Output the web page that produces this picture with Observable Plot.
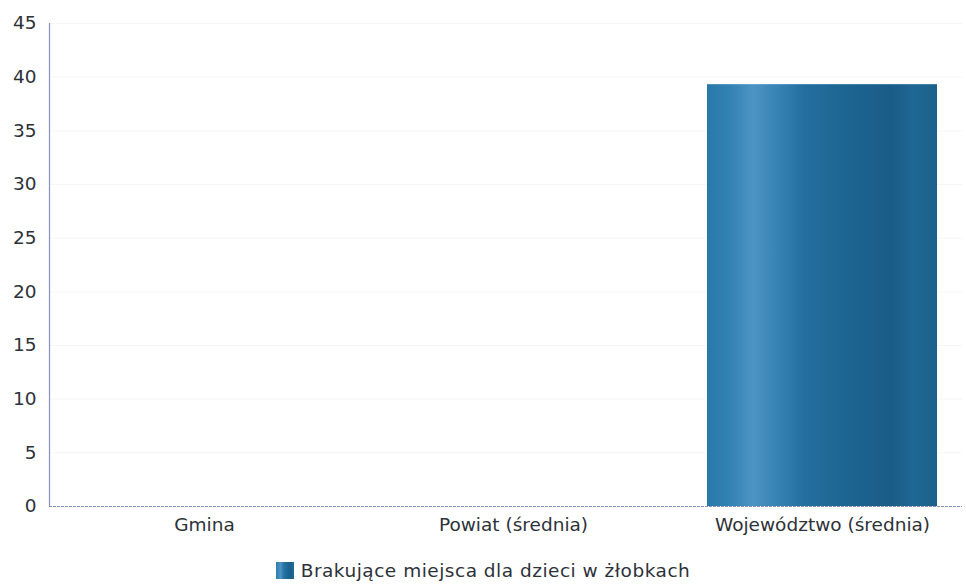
<!DOCTYPE html>
<html>
<head>
<meta charset="utf-8">
<script src="https://cdn.jsdelivr.net/npm/d3@7"></script>
<script src="https://cdn.jsdelivr.net/npm/@observablehq/plot@0.6"></script>
<style>
  body { margin: 0; background: #fff; font-family: "DejaVu Sans", sans-serif; }
  #legend { display: flex; justify-content: center; align-items: center; margin-top: 20px; font-size: 18.5px; letter-spacing: 0.5px; color: #2d3238; padding-left: 0px; }
  #legend .sw { width: 18px; height: 17px; margin-right: 7px; background: linear-gradient(90deg, #2a7cad 0%, #4a93c2 25%, #2472a3 45%, #1b5f8b 80%, #1f6a97 100%); }
</style>
</head>
<body>
<div id="chart"></div>
<div id="legend"><div class="sw"></div><span>Brakujące miejsca dla dzieci w żłobkach</span></div>
<script>
const categories = ["Gmina", "Powiat (średnia)", "Województwo (średnia)"];
const values = [0, 0, 39.3];
const seriesName = "Brakujące miejsca dla dzieci w żłobkach";
const yTicks = [0, 5, 10, 15, 20, 25, 30, 35, 40, 45];

const data = categories.map((c, i) => ({category: c, value: values[i]}));

const chart = Plot.plot({
  width: 966,
  height: 540,
  marginTop: 23,
  marginBottom: 34,
  marginLeft: 49,
  marginRight: 4,
  style: {fontFamily: "DejaVu Sans, sans-serif", fontSize: "18.5px", color: "#2d3238", background: "#fff"},
  x: {domain: categories, range: [49, 977], paddingInner: 0.256, paddingOuter: 0.128, label: null},
  y: {domain: [0, 45], ticks: yTicks, label: null},
  marks: [
    () => {
      const svg = d3.create("svg:g");
      const g = svg.append("defs").append("linearGradient").attr("id", "barGrad").attr("x1", "0").attr("x2", "1").attr("y1", "0").attr("y2", "0");
      [[0, "#2878aa"], [0.1, "#3282b4"], [0.2, "#4d94c3"], [0.3, "#3784b5"], [0.42, "#246fa0"], [0.6, "#1d6592"], [0.8, "#1a5c87"], [0.9, "#1f6893"], [1, "#1c618c"]]
        .forEach(([o, c]) => g.append("stop").attr("offset", o).attr("stop-color", c));
      return svg.node();
    },
    Plot.gridY(yTicks, {stroke: "#e8e8e8", strokeOpacity: 0.4}),
    Plot.barY(data, {x: "category", y: "value", fill: "url(#barGrad)"}),
    Plot.ruleY([0], {stroke: "#8592bd", strokeWidth: 1.2, strokeDasharray: "3,1"}),
    Plot.frame({anchor: "left", stroke: "#8592bd", strokeWidth: 1.2, strokeDasharray: "3,1"}),
    Plot.axisY(yTicks, {tickSize: 0, tickPadding: 13, fontSize: "18.5px", fill: "#2d3238"}),
    Plot.axisX({tickSize: 0, tickPadding: 11, fontSize: "18.5px", fill: "#2d3238", style: {letterSpacing: "0.8px"}})
  ]
});
document.getElementById("chart").appendChild(chart);
</script>
</body>
</html>
